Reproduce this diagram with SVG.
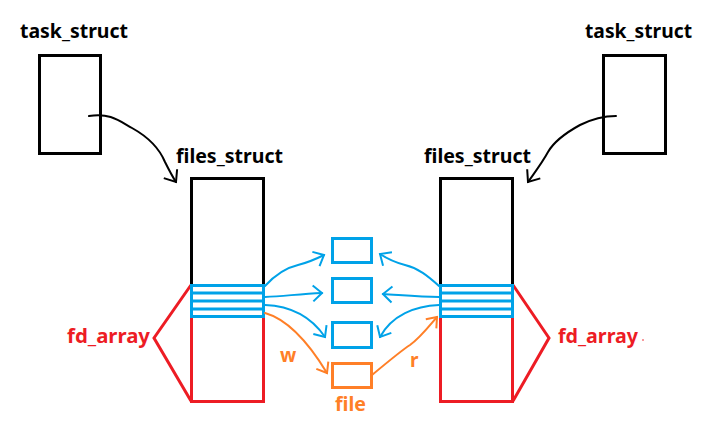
<svg xmlns="http://www.w3.org/2000/svg" width="717" height="436" viewBox="0 0 717 436">
<style>
.lbl{font-family:"Noto Sans","Liberation Sans",sans-serif;font-weight:bold;font-size:19px;fill:#000}
.red{fill:#ed1c24}
.org{fill:#ff7f27}
.box{fill:none;stroke-width:3}
.k{stroke:#000}
.r{stroke:#ed1c24}
.b{stroke:#00a2e8}
.o{stroke:#ff7f27}
.c{fill:none;stroke-width:2;stroke-linecap:round;stroke-linejoin:round}
</style>
<defs>
<marker id="hk" viewBox="-12 -10 14 20" refX="0" refY="0" markerWidth="14" markerHeight="20" markerUnits="userSpaceOnUse" orient="auto"><polyline points="-10,-8 0,0 -10,8" fill="none" stroke="#000" stroke-width="2"/></marker>
<marker id="hb" viewBox="-12 -10 14 20" refX="0" refY="0" markerWidth="14" markerHeight="20" markerUnits="userSpaceOnUse" orient="auto"><polyline points="-9,-8 0,0 -9,8" fill="none" stroke="#00a2e8" stroke-width="2"/></marker>
<marker id="ho" viewBox="-12 -10 14 20" refX="0" refY="0" markerWidth="14" markerHeight="20" markerUnits="userSpaceOnUse" orient="auto"><polyline points="-9,-7 0,0 -9,7" fill="none" stroke="#ff7f27" stroke-width="2"/></marker>
</defs>
<rect width="717" height="436" fill="#fff"/>

<g id="task_left">
<text class="lbl" x="20" y="38" textLength="108" lengthAdjust="spacingAndGlyphs">task_struct</text>
<rect class="box k" x="39.5" y="55.5" width="61" height="98"/>
</g>
<g id="task_right">
<text class="lbl" x="585" y="38" textLength="107" lengthAdjust="spacingAndGlyphs">task_struct</text>
<rect class="box k" x="603.5" y="55.5" width="62" height="98"/>
</g>

<g id="files_left">
<text class="lbl" x="176" y="163" textLength="107" lengthAdjust="spacingAndGlyphs">files_struct</text>
<polyline class="box k" points="191.5,285 191.5,178.5 263.5,178.5 263.5,285"/>
<rect class="box r" x="191.5" y="285.5" width="72" height="116"/>
<polyline class="box r" points="191,285 154,338 191,401"/>
<rect class="box b" x="191.5" y="285.5" width="72" height="31"/>
<line class="box b" x1="191" y1="293" x2="264" y2="293"/>
<line class="box b" x1="191" y1="301" x2="264" y2="301"/>
<line class="box b" x1="191" y1="309" x2="264" y2="309"/>
<text class="lbl red" x="67" y="343" textLength="83" lengthAdjust="spacingAndGlyphs">fd_array</text>
</g>

<g id="files_right">
<text class="lbl" x="424" y="163" textLength="107" lengthAdjust="spacingAndGlyphs">files_struct</text>
<polyline class="box k" points="440.5,285 440.5,178.5 512.5,178.5 512.5,285"/>
<rect class="box r" x="440.5" y="285.5" width="72" height="116"/>
<polyline class="box r" points="513,285 549,338 513,401"/>
<rect class="box b" x="440.5" y="285.5" width="72" height="31"/>
<line class="box b" x1="440" y1="293" x2="513" y2="293"/>
<line class="box b" x1="440" y1="301" x2="513" y2="301"/>
<line class="box b" x1="440" y1="309" x2="513" y2="309"/>
<text class="lbl red" x="558" y="343" textLength="80" lengthAdjust="spacingAndGlyphs">fd_array</text>
<circle cx="643" cy="340" r="0.8" fill="#ed1c24"/>
</g>

<g id="file_boxes">
<rect class="box b" x="332.5" y="238.5" width="39" height="24"/>
<rect class="box b" x="332.5" y="278.5" width="39" height="24"/>
<rect class="box b" x="332.5" y="322.5" width="39" height="25"/>
</g>
<g id="file">
<rect class="box o" x="332.5" y="363.5" width="39" height="24"/>
<text class="lbl org" x="335" y="411" textLength="31" lengthAdjust="spacingAndGlyphs">file</text>
</g>

<g id="connectors">
<path class="c k" d="M89,116 C110,113 118,120 132,128 C150,138 160,150 165,162 C170,172 172,176 176,182" marker-end="url(#hk)"/>
<path class="c k" d="M616,116 C600,116 590,120 580,125 C560,136 552,145 548,152 C542,163 535,172 528,182" marker-end="url(#hk)"/>
<path class="c b" d="M265,286 C275,275 285,268 298,265 C310,262 318,258 324,255" marker-end="url(#hb)"/>
<path class="c b" d="M265,297 C285,296 300,294 322,293" marker-end="url(#hb)"/>
<path class="c b" d="M265,305 C290,306 310,315 325,337" marker-end="url(#hb)"/>
<path class="c o" d="M265,313 C290,320 310,345 327,373" marker-end="url(#ho)"/>
<path class="c b" d="M439,286 C428,276 418,268 405,265 C393,262 386,258 380,254" marker-end="url(#hb)"/>
<path class="c b" d="M439,297 C420,297 400,295 383,294" marker-end="url(#hb)"/>
<path class="c b" d="M439,305 C415,306 392,315 380,337" marker-end="url(#hb)"/>
<path class="c o" d="M372,375 C390,360 402,350 410,345 C420,338 430,325 437,317" marker-end="url(#ho)"/>
<text class="lbl org" x="280" y="362" font-size="19">w</text>
<text class="lbl org" x="410" y="367" font-size="19">r</text>
</g>
</svg>
